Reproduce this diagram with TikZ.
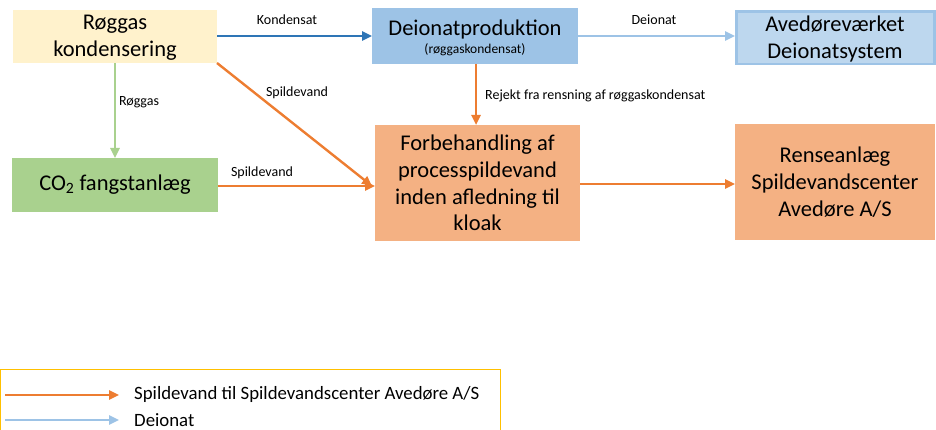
\documentclass[tikz,border=0pt]{standalone}
\usepackage{fontspec}
\setmainfont{Carlito}
\usetikzlibrary{arrows.meta}
\definecolor{cyellow}{HTML}{FFF2CC}
\definecolor{cblue}{HTML}{9DC3E6}
\definecolor{clblue}{HTML}{BDD7EE}
\definecolor{cgreen}{HTML}{A9D18E}
\definecolor{corange}{HTML}{F4B183}
\definecolor{darr}{HTML}{2E75B6}
\definecolor{oarr}{HTML}{ED7D31}
\definecolor{legbord}{HTML}{FFC000}
\tikzset{
  box/.style={inner sep=0pt, align=center, font=\fontsize{22.5}{26.7}\selectfont},
  lab/.style={font=\fontsize{14}{16}\selectfont, inner sep=1pt},
  arr/.style={line width=2.4pt, -{Triangle[length=10pt,width=9pt]}},
}
\begin{document}
\begin{tikzpicture}[x=1pt,y=-1pt]
\useasboundingbox (0,0) rectangle (936,430);
% boxes
\fill[cyellow] (13,10) rectangle (217,63);
\node[box] (rk) at (115,38) {Røggas\\kondensering};
\coordinate (rkE) at (217,36);
\coordinate (rkSE) at (217,63);
\coordinate (rkS) at (115,63);

\fill[cblue] (372,8) rectangle (578,64);
\node[box] (dp) at (475,29.5) {Deionatproduktion};
\node[font=\fontsize{13.5}{15}\selectfont, inner sep=0pt] (dpsub) at (475,50) {(røggaskondensat)};
\coordinate (dpW) at (372,36);
\coordinate (dpE) at (578,36);
\coordinate (dpS) at (476,64);

\filldraw[fill=clblue, draw=cblue, line width=2.5pt] (736.5,11.5) rectangle (934.5,64);
\node[box] (av) at (835,39) {Avedøreværket\\Deionatsystem};
\coordinate (avW) at (735,36);

\fill[cgreen] (12,158) rectangle (218,212);
\node[box] (co) at (115,185) {CO\textsubscript{2} fangstanlæg};
\coordinate (coE) at (218,186);

\fill[corange] (375,125) rectangle (580,241);
\node[box] (fb) at (477.5,183) {Forbehandling af\\processpildevand\\inden afledning til\\kloak};
\coordinate (fbW) at (375,186);
\coordinate (fbW2) at (372,186);
\coordinate (fbN) at (476,125);
\coordinate (fbE) at (580,184);

\fill[corange] (735,124) rectangle (935,240);
\node[box] (rs) at (835,182) {Renseanlæg\\Spildevandscenter\\Avedøre A/S};
\coordinate (rsW) at (735,184);

% arrows
\draw[arr, darr] (rkE) -- (dpW);
\node[lab] (l1) at (287,20) {Kondensat};
\draw[arr, cblue] (dpE) -- (avW);
\node[lab] (l2) at (654,20) {Deionat};
\draw[arr, cgreen] (rkS) -- (115,158);
\node[lab] (l3) at (139,102) {Røggas};
\draw[arr, oarr] (rkSE) -- (fbW2);
\node[lab] (l4) at (297,93) {Spildevand};
\draw[arr, oarr] (coE) -- (fbW);
\node[lab] (l5) at (262,173) {Spildevand};
\draw[arr, oarr] (dpS) -- (fbN);
\node[lab, anchor=west] (l6) at (484,96) {Rejekt fra rensning af røggaskondensat};
\draw[arr, oarr] (fbE) -- (rsW);

% legend
\draw[legbord, line width=0.8pt] (0.5,369) rectangle (500,432);
\coordinate (la1) at (5,395);
\coordinate (lb1) at (119,395);
\coordinate (la2) at (5,420);
\coordinate (lb2) at (119,420);
\draw[arr, oarr] (la1) -- (lb1);
\draw[arr, cblue] (la2) -- (lb2);
\node[anchor=west, font=\fontsize{18.8}{22}\selectfont, inner sep=0pt] (lt1) at (134,394) {Spildevand til Spildevandscenter Avedøre A/S};
\node[anchor=west, font=\fontsize{18.8}{22}\selectfont, inner sep=0pt] (lt2) at (134,420) {Deionat};
\end{tikzpicture}
\end{document}
